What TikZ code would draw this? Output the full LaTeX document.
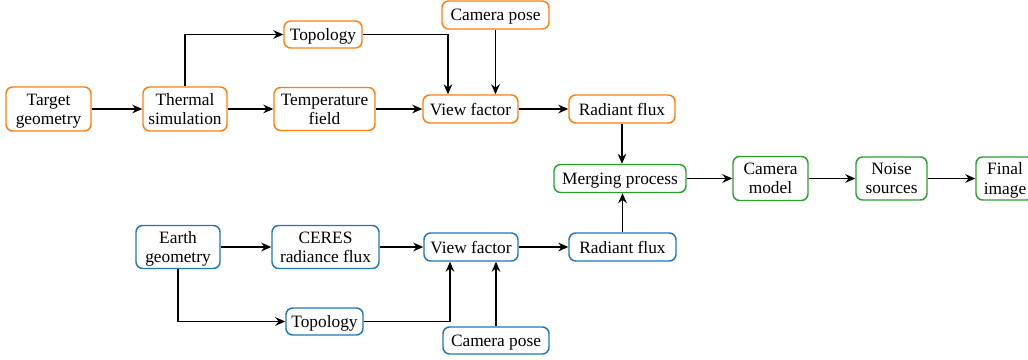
\documentclass[tikz,border=0pt]{standalone}
\usepackage{fontspec}
\setmainfont{Liberation Serif}
\usetikzlibrary{arrows.meta}
\definecolor{torange}{HTML}{FF7F0E}
\definecolor{tgreen}{HTML}{2CA02C}
\definecolor{tblue}{HTML}{1F77B4}
\tikzset{
  bx/.style 2 args={draw, line width=1.1pt, rounded corners=5pt, fill=white,
    align=center, inner sep=1pt, text depth=0pt,
    minimum width=#1*0.75pt, minimum height=#2*0.75pt,
    font=\fontsize{13}{14.3}\selectfont},
  ob/.style={draw=torange},
  gb/.style={draw=tgreen},
  bb/.style={draw=tblue},
  flow/.style={-{Stealth[length=7.5pt,width=6.5pt,inset=2.5pt]}, line width=1pt, black},
}
\begin{document}
\begin{tikzpicture}[x=0.75pt, y=-0.75pt]
\clip (0,0) rectangle (1028,360);
\useasboundingbox (0,0) rectangle (1028,360);

% thermal branch (target)
\node[bx={85}{44}, ob] (tg) at (48.5,109) {Target\\geometry};
\node[bx={84}{44}, ob] (ts) at (185,109) {Thermal\\simulation};
\node[bx={101}{43}, ob] (tf) at (324.5,109) {Temperature\\field};
\node[bx={78}{27}, ob] (tt) at (323,34.5) {Topology};
\node[bx={107}{28}, ob] (tc) at (495.5,15) {Camera pose};
\node[bx={95}{28}, ob] (tv) at (470.5,109) {View factor};
\node[bx={106}{28}, ob] (tr) at (622,109) {Radiant flux};

% merged imaging chain
\node[bx={132}{28}, gb] (mp) at (620,178.5) {Merging process};
\node[bx={75}{44}, gb] (cm) at (770.5,178.5) {Camera\\model};
\node[bx={71}{43}, gb] (ns) at (891.5,178.5) {Noise\\sources};
\node[bx={58}{43}, gb] (fi) at (1005,178.5) {Final\\image};

% Earth branch
\node[bx={84}{43}, bb] (eg) at (178,247) {Earth\\geometry};
\node[bx={107}{43}, bb] (cr) at (325.5,247) {CERES\\radiance flux};
\node[bx={94}{28}, bb] (bv) at (471,247) {View factor};
\node[bx={107}{28}, bb] (br) at (622.5,247) {Radiant flux};
\node[bx={77}{27}, bb] (bt) at (324.5,321.5) {Topology};
\node[bx={106}{27}, bb] (bc) at (496,340.5) {Camera pose};

% connectors, target branch
\draw[flow] (tg.east) -- (ts.west);
\draw[flow] (ts.north) |- (tt.west);
\draw[flow] (ts.east) -- (tf.west);
\draw[flow] (tf.east) -- (tv.west);
\draw[flow] (tt.east) -| ([xshift=-16.9pt]tv.north);
\draw[flow] (tc.south) -- (tc.south |- tv.north);
\draw[flow] (tv.east) -- (tr.west);
\draw[flow] (tr.south) -- (tr.south |- mp.north);

% connectors, Earth branch
\draw[flow] (eg.east) -- (cr.west);
\draw[flow] (eg.south) |- (bt.west);
\draw[flow] (cr.east) -- (bv.west);
\draw[flow] (bt.east) -| ([xshift=-15.75pt]bv.south);
\draw[flow] (bc.north) -- (bc.north |- bv.south);
\draw[flow] (bv.east) -- (br.west);
\draw[flow] (br.north) -- (br.north |- mp.south);

% imaging chain
\draw[flow] (mp.east) -- (cm.west);
\draw[flow] (cm.east) -- (ns.west);
\draw[flow] (ns.east) -- (fi.west);
\end{tikzpicture}
\end{document}
